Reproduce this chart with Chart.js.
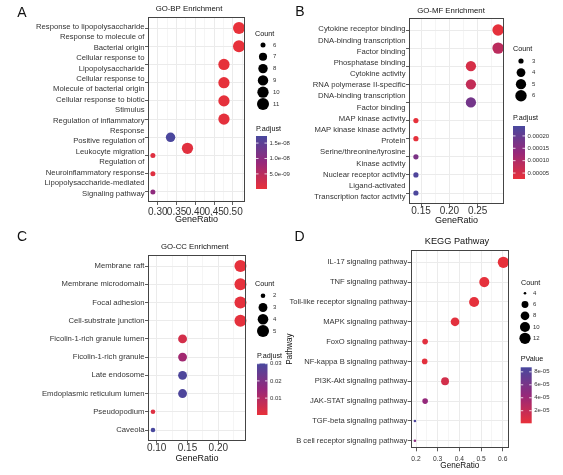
<!DOCTYPE html>
<html>
<head>
<meta charset="utf-8">
<script src="https://cdn.jsdelivr.net/npm/chart.js@4.4.1/dist/chart.umd.min.js"></script>
<style>
  body { margin: 0; background: #fff; }
  #wrap { position: relative; width: 563px; height: 475px; overflow: hidden; background: #fff; }
  canvas { position: absolute; }
</style>
</head>
<body>
<div id="wrap">
  <canvas id="cA" width="300" height="230" style="left:0;top:0"></canvas>
  <canvas id="cB" width="283" height="230" style="left:280px;top:0"></canvas>
  <canvas id="cC" width="300" height="245" style="left:0;top:230px"></canvas>
  <canvas id="cD" width="283" height="245" style="left:280px;top:230px"></canvas>
</div>
<script>
// ---- A: GO-BP ----
const bpLines = ['Response to lipopolysaccharide', 'Response to molecule of', 'Bacterial origin',
  'Cellular response to', 'Lipopolysaccharide', 'Cellular response to', 'Molecule of bacterial origin',
  'Cellular response to biotic', 'Stimulus', 'Regulation of inflammatory', 'Response',
  'Positive regulation of', 'Leukocyte migration', 'Regulation of', 'Neuroinflammatory response',
  'Lipopolysaccharide-mediated', 'Signaling pathway'];
const bpRow = [0, 1, 2, 3, 4, 5, 6, 6.6, 7, 8, 9];
const bpRatio = [0.516, 0.516, 0.476, 0.476, 0.476, 0.476, 0.334, 0.379, 0.287, 0.287, 0.287];
const bpCount = [11, 11, 10, 10, 10, 10, 8, 10, 6, 6, 6];
const bpPadj = [1e-10, 2e-10, 3e-10, 3e-10, 4e-10, 5e-10, 1.7e-8, 8e-10, 1e-9, 1e-9, 9.5e-9];
const bpXTicks = [0.30, 0.35, 0.40, 0.45, 0.50];
const bpCountTicks = [6, 7, 8, 9, 10, 11];
const bpPTicks = [5e-9, 1e-8, 1.5e-8];
const bpPLabels = ['5.0e-09', '1.0e-08', '1.5e-08'];

// ---- B: GO-MF ----
const mfLines = ['Cytokine receptor binding', 'DNA-binding transcription', 'Factor binding',
  'Phosphatase binding', 'Cytokine activity', 'RNA polymerase II-specific', 'DNA-binding transcription',
  'Factor binding', 'MAP kinase activity', 'MAP kinase kinase activity', 'Protein',
  'Serine/threonine/tyrosine', 'Kinase activity', 'Nuclear receptor activity', 'Ligand-activated',
  'Transcription factor activity'];
const mfRatio = [0.286, 0.286, 0.238, 0.238, 0.238, 0.141, 0.141, 0.141, 0.141, 0.141];
const mfCount = [6, 6, 5, 5, 5, 3, 3, 3, 3, 3];
const mfPadj = [3e-5, 8.5e-5, 5e-5, 7.5e-5, 1.8e-4, 2.8e-5, 3e-5, 1.7e-4, 2.3e-4, 2.35e-4];
const mfXTicks = [0.15, 0.20, 0.25];
const mfCountTicks = [3, 4, 5, 6];
const mfPTicks = [5e-5, 1e-4, 1.5e-4, 2e-4];
const mfPLabels = ['0.00005', '0.00010', '0.00015', '0.00020'];

// ---- C: GO-CC ----
const ccTerms = ['Membrane raft', 'Membrane microdomain', 'Focal adhesion', 'Cell-substrate junction',
  'Ficolin-1-rich granule lumen', 'Ficolin-1-rich granule', 'Late endosome',
  'Emdoplasmic reticulum lumen', 'Pseudopodium', 'Caveola'];
const ccRatio = [0.236, 0.236, 0.236, 0.236, 0.142, 0.142, 0.142, 0.142, 0.094, 0.094];
const ccCount = [5, 5, 5, 5, 3, 3, 3, 3, 2, 2];
const ccPadj = [0.0006, 0.0006, 0.0008, 0.001, 0.004, 0.013, 0.029, 0.029, 0.002, 0.030];
const ccXTicks = [0.10, 0.15, 0.20];
const ccCountTicks = [2, 3, 4, 5];
const ccPTicks = [0.01, 0.02, 0.03];
const ccPLabels = ['0.01', '0.02', '0.03'];

// ---- D: KEGG ----
const keggTerms = ['IL-17 signaling pathway', 'TNF signaling pathway', 'Toll-like receptor signaling pathway',
  'MAPK signaling pathway', 'FoxO signaling pathway', 'NF-kappa B signaling pathway',
  'PI3K-Akt signaling pathway', 'JAK-STAT signaling pathway', 'TGF-beta signaling pathway',
  'B cell receptor signaling pathway'];
const keggRatio = [0.603, 0.515, 0.468, 0.380, 0.242, 0.240, 0.334, 0.242, 0.195, 0.195];
const keggCount = [12, 10, 10, 8, 5, 5, 7, 5, 4, 4];
const keggP = [1e-6, 2e-6, 2e-6, 3e-6, 4e-6, 3e-6, 1.2e-5, 4.5e-5, 8.4e-5, 5e-5];
const keggXTicks = [0.2, 0.3, 0.4, 0.5, 0.6];
const keggCountTicks = [4, 6, 8, 10, 12];
const keggPTicks = [2e-5, 4e-5, 6e-5, 8e-5];
const keggPLabels = ['2e-05', '4e-05', '6e-05', '8e-05'];

const FONT = '"Liberation Sans", Arial, sans-serif';
const GRID = '#ebebeb';
const RED = [232, 49, 58], MID = [150, 40, 122], BLUE = [72, 72, 158];

function lerp(a, b, u) { return a.map((v, i) => Math.round(v + (b[i] - v) * u)); }
function pColor(p, lo, hi) {
  const t = Math.max(0, Math.min(1, (p - lo) / (hi - lo)));
  const c = t < 0.5 ? lerp(RED, MID, t * 2) : lerp(MID, BLUE, (t - 0.5) * 2);
  return `rgb(${c[0]},${c[1]},${c[2]})`;
}

function xTickList(majors, lo, hi) {
  const h = (majors[1] - majors[0]) / 2;
  const out = majors.map(v => ({ value: v, major: true }));
  [majors[0] - h, ...majors.map(v => v + h)].forEach(v => {
    if (v > lo && v < hi) out.push({ value: v, major: false });
  });
  return out.sort((a, b) => a.value - b.value);
}

function drawDeco(chart, d, s, rad, col) {
  const ctx = chart.ctx, a = chart.chartArea;
  ctx.save();
  // panel border
  ctx.strokeStyle = '#444';
  ctx.lineWidth = 1;
  ctx.strokeRect(Math.round(a.left) + 0.5, Math.round(a.top) + 0.5,
    Math.round(a.right - a.left) - 1, Math.round(a.bottom - a.top) - 1);

  ctx.textBaseline = 'middle';
  ctx.fillStyle = '#111';
  // panel letter
  ctx.textAlign = 'center';
  ctx.font = `14px ${FONT}`;
  ctx.fillText(s.letter[0], s.letter[1], s.letter[2]);
  // title
  ctx.font = `${s.title[3]}px ${FONT}`;
  ctx.fillText(s.title[0], s.title[1], s.title[2]);

  // size legend
  ctx.textAlign = 'left';
  const c = s.cnt;
  ctx.font = `7.2px ${FONT}`;
  ctx.fillText('Count', c.tx, c.ty);
  ctx.font = `6px ${FONT}`;
  d.countTicks.forEach((v, i) => {
    const y = c.y0 + i * c.step;
    ctx.fillStyle = '#000';
    ctx.beginPath();
    ctx.arc(c.x, y, rad(v), 0, Math.PI * 2);
    ctx.fill();
    ctx.fillStyle = '#333';
    ctx.fillText(String(v), c.lx, y);
  });

  // colour bar
  const b = s.bar;
  ctx.fillStyle = '#111';
  ctx.font = `7.2px ${FONT}`;
  ctx.fillText(b.title, b.x, b.ty);
  const g = ctx.createLinearGradient(0, b.y + b.h, 0, b.y);
  for (let k = 0; k <= 20; k++) g.addColorStop(k / 20, col(b.lo + (b.hi - b.lo) * k / 20));
  ctx.fillStyle = g;
  ctx.fillRect(b.x, b.y, b.w, b.h);
  ctx.font = `6px ${FONT}`;
  d.pTicks.forEach((v, i) => {
    const y = b.y + b.h - (v - b.lo) / (b.hi - b.lo) * b.h;
    ctx.strokeStyle = '#fff';
    ctx.lineWidth = 0.8;
    ctx.beginPath();
    ctx.moveTo(b.x, y); ctx.lineTo(b.x + 2.5, y);
    ctx.moveTo(b.x + b.w - 2.5, y); ctx.lineTo(b.x + b.w, y);
    ctx.stroke();
    ctx.fillStyle = '#333';
    ctx.fillText(d.pLabels[i], b.x + b.w + 2.5, y);
  });
  ctx.restore();
}

function makePanel(d, s) {
  const cmin = Math.min(...d.count), cmax = Math.max(...d.count);
  const rad = c => s.r[0] + Math.sqrt((c - cmin) / (cmax - cmin)) * (s.r[1] - s.r[0]);
  const col = p => pColor(p, s.bar.lo, s.bar.hi);
  const rows = d.row || d.ratio.map((_, i) => i);
  const pts = d.ratio.map((x, i) => ({ x, y: rows[i], c: d.count[i], p: d.p[i] }));
  const lines = d.lines;
  const xLH = s.xFont * 1.2, gLH = s.gtFont * 1.2;
  const xH = s.H - s.area.b;

  new Chart(document.getElementById(s.id), {
    type: 'scatter',
    data: {
      datasets: [{
        data: pts,
        xAxisID: 'x',
        yAxisID: 'y',
        clip: false,
        pointRadius: ctx => rad(ctx.raw.c),
        pointHoverRadius: ctx => rad(ctx.raw.c),
        pointBackgroundColor: ctx => col(ctx.raw.p),
        pointBorderWidth: 0,
        pointHoverBorderWidth: 0,
      }],
    },
    options: {
      responsive: false,
      animation: false,
      events: [],
      layout: { padding: { left: 0, right: s.W - s.area.r, top: s.area.t, bottom: 0 } },
      plugins: { legend: { display: false }, tooltip: { enabled: false } },
      scales: {
        x: {
          type: 'linear',
          min: s.x[0],
          max: s.x[1],
          afterBuildTicks: ax => { ax.ticks = xTickList(d.xTicks, s.x[0], s.x[1]); },
          afterFit: ax => { ax.height = xH; },
          border: { display: false },
          grid: {
            color: GRID,
            lineWidth: c => (c.tick && c.tick.major ? 1 : 0.5),
            tickColor: c => (c.tick && c.tick.major ? '#333' : 'rgba(0,0,0,0)'),
            tickLength: 3,
            tickWidth: 0.8,
          },
          ticks: {
            autoSkip: false,
            maxRotation: 0,
            padding: s.tickY - s.area.b - 3 - xLH / 2,
            color: '#333',
            font: { family: FONT, size: s.xFont },
            callback: (v, i, t) => (t[i].major ? Number(v).toFixed(s.dec) : ''),
          },
          title: {
            display: true,
            text: 'GeneRatio',
            color: '#111',
            font: { family: FONT, size: s.gtFont },
            padding: { top: 0, bottom: s.H - s.gtY - gLH / 2 },
          },
        },
        y: {
          type: 'linear',
          position: 'left',
          weight: 0,
          reverse: true,
          min: s.y[0],
          max: s.y[1],
          afterBuildTicks: ax => { ax.ticks = Array.from({ length: 10 }, (_, i) => ({ value: i })); },
          afterFit: ax => { ax.width = 3; },
          border: { display: false },
          grid: { color: GRID, lineWidth: 1, tickColor: '#333', tickLength: 3, tickWidth: 0.8 },
          ticks: { display: false },
        },
        yl: {
          type: 'linear',
          position: 'left',
          weight: 1,
          reverse: true,
          min: s.y[0],
          max: s.y[1],
          afterBuildTicks: ax => {
            const n = lines.length;
            ax.ticks = lines.map((_, i) => ({ value: s.span[0] + i * (s.span[1] - s.span[0]) / (n - 1) }));
          },
          afterFit: ax => { ax.width = s.area.l - 3; },
          border: { display: false },
          grid: { display: false, drawTicks: false },
          ticks: {
            autoSkip: false,
            padding: 0.5,
            color: '#333',
            font: { family: FONT, size: s.labFont },
            callback: (v, i) => lines[i],
          },
          title: {
            display: !!s.ytitle,
            text: s.ytitle || '',
            color: '#111',
            font: { family: FONT, size: 8.2 },
            padding: { top: 5, bottom: 0 },
          },
        },
      },
    },
    plugins: [{ id: 'deco', afterDraw: chart => drawDeco(chart, d, s, rad, col) }],
  });
}

makePanel(
  { lines: bpLines, row: bpRow, ratio: bpRatio, count: bpCount, p: bpPadj, xTicks: bpXTicks,
    countTicks: bpCountTicks, pTicks: bpPTicks, pLabels: bpPLabels },
  { id: 'cA', W: 300, H: 230, area: { l: 148, r: 245, t: 17, b: 202 }, x: [0.274, 0.532],
    y: [-0.604, 9.549], span: [-0.07, 9.08], dec: 2, xFont: 10, tickY: 212, gtFont: 9, gtY: 220,
    labFont: 7.7, letter: ['A', 22, 13], title: ['GO-BP Enrichment', 189, 9.3, 7.8], r: [2.5, 6.0],
    cnt: { tx: 255, ty: 34, x: 263, y0: 45, step: 11.8, lx: 273 },
    bar: { x: 256, y: 136, w: 11, h: 53, lo: 1e-10, hi: 1.73e-8, ty: 129, title: 'P.adjust' } }
);

makePanel(
  { lines: mfLines, ratio: mfRatio, count: mfCount, p: mfPadj, xTicks: mfXTicks,
    countTicks: mfCountTicks, pTicks: mfPTicks, pLabels: mfPLabels },
  { id: 'cB', W: 283, H: 230, area: { l: 129, r: 224, t: 18, b: 204 }, x: [0.1288, 0.2964],
    y: [-0.663, 9.607], span: [-0.04, 9.22], dec: 2, xFont: 10, tickY: 211, gtFont: 9, gtY: 221,
    labFont: 7.7, letter: ['B', 20, 12.5], title: ['GO-MF Enrichment', 171, 11, 7.8], r: [2.6, 5.7],
    cnt: { tx: 233, ty: 49, x: 241, y0: 61, step: 11.6, lx: 252 },
    bar: { x: 233, y: 126, w: 12, h: 53, lo: 2.6e-5, hi: 2.4e-4, ty: 118, title: 'P.adjust' } }
);

makePanel(
  { lines: ccTerms, ratio: ccRatio, count: ccCount, p: ccPadj, xTicks: ccXTicks,
    countTicks: ccCountTicks, pTicks: ccPTicks, pLabels: ccPLabels },
  { id: 'cC', W: 300, H: 245, area: { l: 148, r: 246, t: 25, b: 210.7 }, x: [0.0859, 0.245],
    y: [-0.604, 9.587], span: [0, 9], dec: 2, xFont: 10, tickY: 218, gtFont: 9, gtY: 229,
    labFont: 7.7, letter: ['C', 22, 7.5], title: ['GO-CC Enrichment', 194.7, 16.7, 7.8], r: [2.3, 6.0],
    cnt: { tx: 255, ty: 54, x: 263, y0: 65.7, step: 11.8, lx: 273 },
    bar: { x: 257, y: 133.5, w: 10.5, h: 51.5, lo: 0.0002, hi: 0.0301, ty: 126, title: 'P.adjust' } }
);

makePanel(
  { lines: keggTerms, ratio: keggRatio, count: keggCount, p: keggP, xTicks: keggXTicks,
    countTicks: keggCountTicks, pTicks: keggPTicks, pLabels: keggPLabels },
  { id: 'cD', W: 283, H: 245, area: { l: 130.7, r: 229, t: 20, b: 218.3 }, x: [0.1755, 0.629],
    y: [-0.62, 9.38], span: [0, 9], dec: 1, xFont: 6.7, tickY: 229.3, gtFont: 8.2, gtY: 236,
    labFont: 7.6, letter: ['D', 19.5, 7.5], title: ['KEGG Pathway', 177, 11.7, 9.2], r: [1.3, 5.6],
    ytitle: 'Pathway',
    cnt: { tx: 241, ty: 52.7, x: 245, y0: 63.3, step: 11.25, lx: 253 },
    bar: { x: 240.7, y: 137.3, w: 11, h: 56, lo: 6e-7, hi: 8.7e-5, ty: 129.3, title: 'PValue' } }
);
</script>
</body>
</html>
